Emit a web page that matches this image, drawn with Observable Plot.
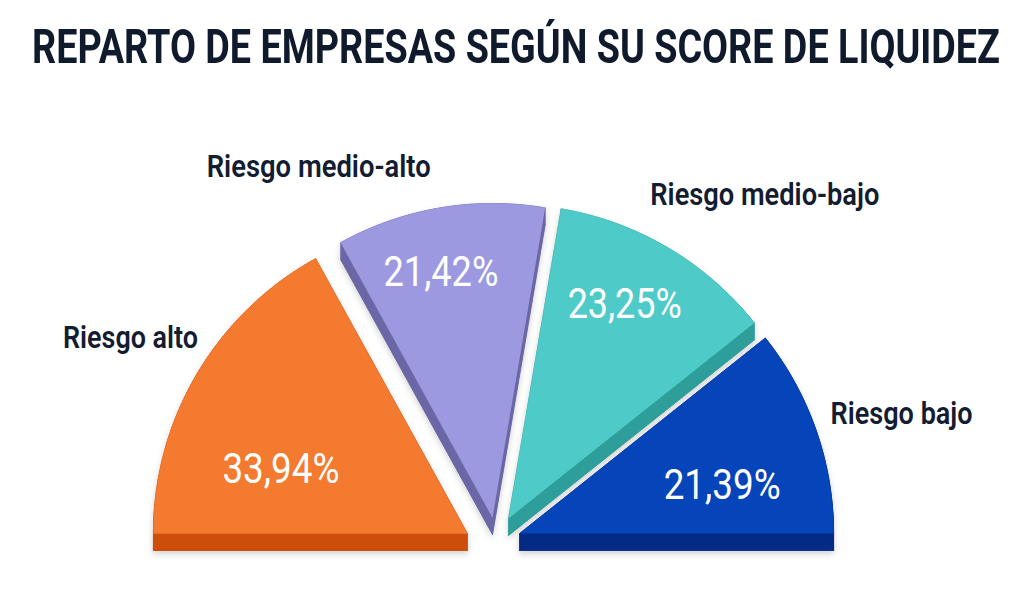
<!DOCTYPE html>
<html>
<head>
<meta charset="utf-8">
<script src="https://cdn.jsdelivr.net/npm/d3@7"></script>
<script src="https://cdn.jsdelivr.net/npm/@observablehq/plot@0.6"></script>
<style>
  html, body { margin: 0; padding: 0; background: #ffffff; }
  #wrap { position: relative; width: 1024px; height: 609px; overflow: hidden; }
  #title {
    position: absolute; left: 32px; top: 0px; height: 100px; white-space: nowrap;
    font-family: "Roboto", "DejaVu Sans Condensed", sans-serif;
    font-weight: 700; font-size: 48px; line-height: 93px; color: #0f1a2d;
    transform-origin: left center;
  }
  #chart { position: absolute; left: 0; top: 100px; }
</style>
</head>
<body>
<div id="wrap">
  <div id="title">REPARTO DE EMPRESAS SEGÚN SU SCORE DE LIQUIDEZ</div>
  <div id="chart"></div>
</div>
<script>
// ---- data ----
const categories = ["Riesgo alto", "Riesgo medio-alto", "Riesgo medio-bajo", "Riesgo bajo"];
const values = [33.94, 21.42, 23.25, 21.39];
const valueLabels = ["33,94%", "21,42%", "23,25%", "21,39%"];

// ---- styles / layout ----
const topColors  = ["#f47a30", "#9c99e0", "#4ecbc8", "#0645b9"];
const sideColors = ["#cd4e0b", "#6b67a6", "#2e9e9b", "#032b85"];
// explode offsets of each slice apex (units of the pie radius)
const explode = [[-0.083, 0], [-0.003, 0.051], [0.048, 0.048], [0.083, 0]];
const depth = 0.054;
// label placement, polar [angle deg, radius] (category: from pie centre; value: from slice apex)
const catPlace = [[151.7, 1.313], [115.5, 1.293], [51.3, 1.382], [16.3, 1.354]];
const valPlace = [[161.1, 0.628], [101.9, 0.797], [61.5, 0.775], [13.3, 0.663]];
// rendered text widths (px), to mimic the condensed face
const catWidths = [135, 224, 229, 142];
const valWidths = [117, 115, 114, 117];

const total = d3.sum(values);
let cum = 0;
const slices = values.map((v, i) => {
  const a0 = Math.PI - (cum / total) * Math.PI;
  cum += v;
  const a1 = Math.PI - (cum / total) * Math.PI;
  return {i, a0, a1, ox: explode[i][0], oy: explode[i][1]};
});

const tops = [], sides = [];
slices.forEach(s => {
  const pts = [[s.ox, s.oy]];
  const n = 80;
  for (let k = 0; k <= n; k++) {
    const a = s.a0 + (s.a1 - s.a0) * k / n;
    pts.push([s.ox + Math.cos(a), s.oy + Math.sin(a)]);
  }
  pts.forEach(p => tops.push({id: "t" + s.i, x: p[0], y: p[1], c: topColors[s.i]}));
  pts.forEach(p => sides.push({id: "b" + s.i, x: p[0], y: p[1] - depth, c: sideColors[s.i]}));
  for (let k = 0; k < pts.length; k++) {
    const p = pts[k], q = pts[(k + 1) % pts.length];
    const id = "q" + s.i + "_" + k;
    [[p[0], p[1]], [q[0], q[1]], [q[0], q[1] - depth], [p[0], p[1] - depth]]
      .forEach(r => sides.push({id, x: r[0], y: r[1], c: sideColors[s.i]}));
  }
});

const deg = Math.PI / 180;
const catData = categories.map((name, i) => ({
  name,
  x: catPlace[i][1] * Math.cos(catPlace[i][0] * deg),
  y: catPlace[i][1] * Math.sin(catPlace[i][0] * deg)
}));
const valData = valueLabels.map((t, i) => ({
  t,
  x: slices[i].ox + valPlace[i][1] * Math.cos(valPlace[i][0] * deg),
  y: slices[i].oy + valPlace[i][1] * Math.sin(valPlace[i][0] * deg)
}));

const font = '"Roboto", "DejaVu Sans Condensed", sans-serif';

const plot = Plot.plot({
  width: 1024,
  height: 509,
  margin: 0,
  x: {domain: [-493 / 314, 531 / 314], axis: null},
  y: {domain: [-76 / 314, 433 / 314], axis: null},
  color: {type: "identity"},
  marks: [
    Plot.line(sides, {x: "x", y: "y", z: "id", fill: "c", stroke: "c", strokeWidth: 0.8, curve: "linear",
      imageFilter: "drop-shadow(0px 3px 3px rgba(0,0,0,0.18))"}),
    Plot.line(tops, {x: "x", y: "y", z: "id", fill: "c", stroke: "c", strokeWidth: 0.5, curve: "linear"}),
    Plot.text(catData, {x: "x", y: "y", text: "name", fontFamily: font, fontWeight: 600, fontSize: 32,
      fill: "#131c31", textAnchor: "middle", lineAnchor: "middle", className: "cat-label"}),
    Plot.text(valData, {x: "x", y: "y", text: "t", fontFamily: font, fontWeight: 400, fontSize: 42,
      fill: "#ffffff", textAnchor: "middle", lineAnchor: "middle", className: "val-label"})
  ]
});
document.getElementById("chart").appendChild(plot);

// squeeze label glyphs horizontally to the condensed widths
function fit(selector, widths) {
  plot.querySelectorAll(selector + " text").forEach((t, i) => {
    t.setAttribute("textLength", widths[i]);
    t.setAttribute("lengthAdjust", "spacingAndGlyphs");
  });
}
fit(".cat-label", catWidths);
fit(".val-label", valWidths);

// fit the title to its width
const title = document.getElementById("title");
const w = title.getBoundingClientRect().width;
title.style.transform = `scaleX(${968 / w})`;
</script>
</body>
</html>
